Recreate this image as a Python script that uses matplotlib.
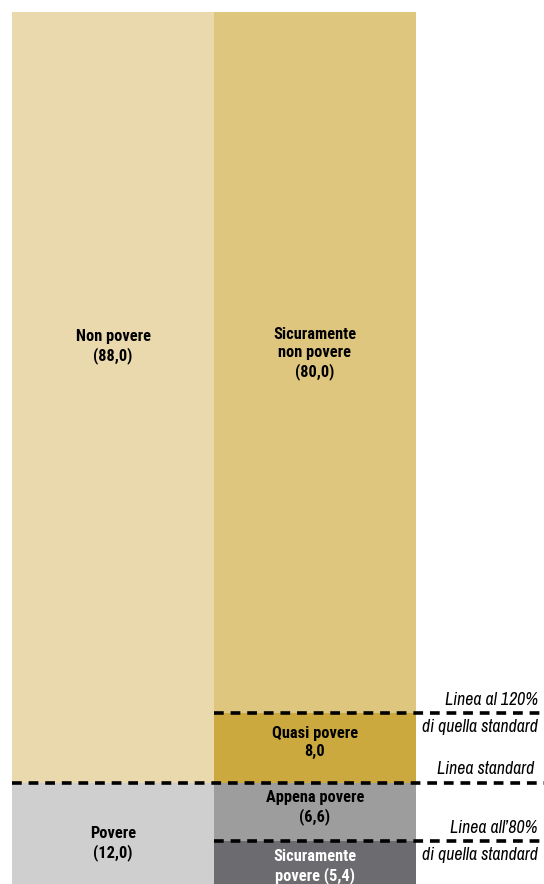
import matplotlib
matplotlib.use("Agg")
import matplotlib.pyplot as plt

plt.rcParams['font.family'] = ['Archivo Narrow', 'Roboto Condensed', 'DejaVu Sans']
BOLD_FAMILY = ['Roboto Condensed', 'Archivo Narrow', 'DejaVu Sans']

# Data
columns = ["Standard", "Dettaglio"]
left_labels = ["Povere\n(12,0)", "Non povere\n(88,0)"]
left_values = [12.0, 88.0]
right_labels = ["Sicuramente\npovere (5,4)", "Appena povere\n(6,6)", "Quasi povere\n8,0",
                "Sicuramente\nnon povere\n(80,0)"]
right_values = [5.4, 6.6, 8.0, 80.0]
line_top = ["Linea all\u201980%", "Linea standard", "Linea al 120%"]
line_bottom = ["di quella standard", "", "di quella standard"]

left_colors = ["#cfcfcf", "#e9d9ad"]
right_colors = ["#6c6c70", "#9d9d9d", "#cba93f", "#dec67f"]
right_text_colors = ["white", "black", "black", "black"]

W, H = 544, 884
fig = plt.figure(figsize=(W / 100, H / 100), dpi=100)
ax = fig.add_axes([0, (H - 888) / H, 1, (888 - 12) / H])
ax.set_xlim(0, W)
ax.set_ylim(0, 100)
ax.axis("off")

x_left, x_mid, x_right = 12, 214, 416

bottom = 0
for v, c in zip(left_values, left_colors):
    ax.bar(x_left, v, width=x_mid - x_left, bottom=bottom, color=c, align="edge", linewidth=0)
    bottom += v

bottom = 0
for v, c in zip(right_values, right_colors):
    ax.bar(x_mid, v, width=x_right - x_mid, bottom=bottom, color=c, align="edge", linewidth=0)
    bottom += v

cx_l = (x_left + x_mid) / 2
cx_r = (x_mid + x_right) / 2
fs = 11.8
bold = dict(ha="center", va="center", fontsize=fs, fontweight="bold",
            family=BOLD_FAMILY, linespacing=1.22)
ax.text(cx_l, left_values[0] / 2 - 0.9, left_labels[0], **bold)
ax.text(cx_l, 61.8, left_labels[1], **bold)

cum = 0
offsets = [-0.25, 0.5, 0.6, None]
for v, lab, tc, off in zip(right_values, right_labels, right_text_colors, offsets):
    y = 61.0 if off is None else cum + v / 2 + off
    ax.text(cx_r, y, lab, color=tc, **bold)
    cum += v

# Threshold dashed lines
y80 = right_values[0]
ystd = left_values[0]
y120 = sum(right_values[:3])
dash = dict(color="black", linewidth=2.6, linestyle=(0, (2.7, 1.9)), solid_capstyle="butt")
ax.plot([x_mid, W], [y80, y80], **dash)
ax.plot([x_left, W], [ystd, ystd], **dash)
ax.plot([x_mid, W], [y120, y120], **dash)

fs2 = 12.8
ital = dict(fontsize=fs2, style="italic", ha="right", textcoords="offset pixels")
for y, top, bot, xr in zip([y80, ystd, y120], line_top, line_bottom, [538, 534, 538]):
    ax.annotate(top, (xr, y), xytext=(0, 13 if bot else 14), va="center", **ital)
    if bot:
        ax.annotate(bot, (xr, y), xytext=(0, -14), va="center", **ital)

fig.savefig("out.png", dpi=100)
